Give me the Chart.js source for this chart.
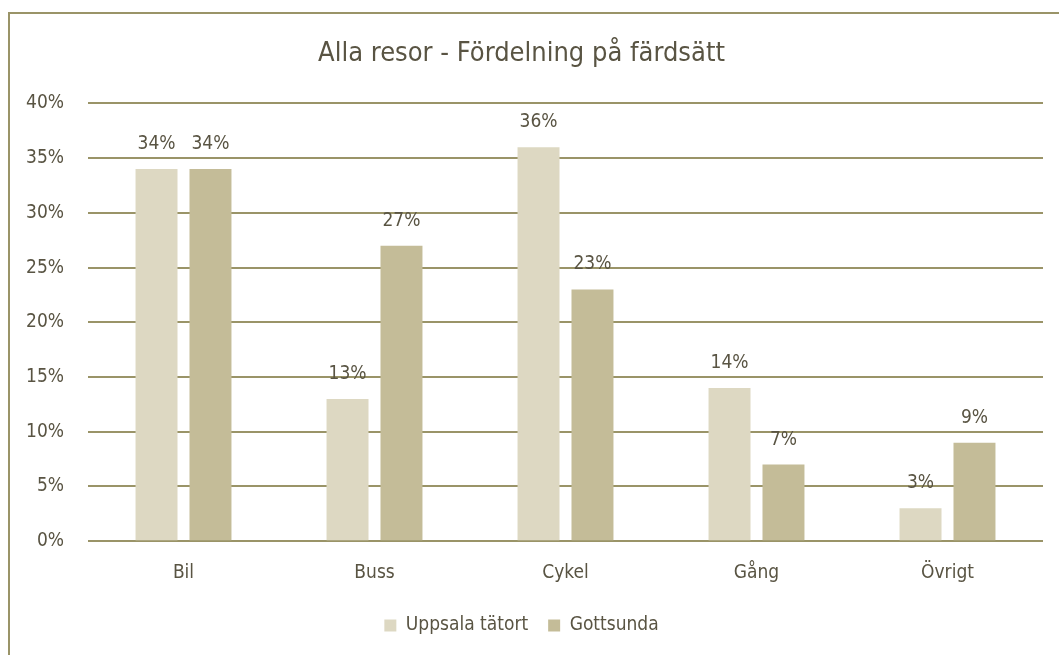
<!DOCTYPE html>
<html>
<head>
<meta charset="utf-8">
<script src="https://cdn.jsdelivr.net/npm/chart.js@4"></script>
<style>
  html, body { margin: 0; padding: 0; background: #fff; overflow: hidden; }
  #frame { position: absolute; left: 8px; top: 12px; width: 1100px; height: 700px; border: 2px solid #9a9468; }
  #wrap { position: absolute; left: 0; top: 0; width: 1059px; height: 655px; }
</style>
</head>
<body>
<div id="frame"></div>
<div id="wrap"><canvas id="mycanvas"></canvas></div>
<script>
const categories = ['Bil', 'Buss', 'Cykel', 'Gång', 'Övrigt'];
const uppsala = [34, 13, 36, 14, 3];
const gottsunda = [34, 27, 23, 7, 9];
const seriesNames = ['Uppsala tätort', 'Gottsunda'];

const FONT = '"Liberation Sans Narrow", "DejaVu Sans Condensed", "Roboto", sans-serif';
const TEXT = '#595443';

// draws the percentage above each bar
const valueLabels = {
    id: 'valueLabels',
    afterDatasetsDraw(chart) {
        const ctx = chart.ctx;
        ctx.save();
        ctx.font = '19px ' + FONT;
        ctx.fillStyle = TEXT;
        ctx.textAlign = 'center';
        ctx.textBaseline = 'middle';
        chart.data.datasets.forEach((ds, i) => {
            chart.getDatasetMeta(i).data.forEach((bar, j) => {
                ctx.fillText(ds.data[j] + '%', bar.x, bar.y - 25);
            });
        });
        ctx.restore();
    }
};

const chartdata = {
    labels: categories,
    datasets: [{
        label: seriesNames[0],
        backgroundColor: '#ddd8c2',
        data: uppsala
    }, {
        label: seriesNames[1],
        backgroundColor: '#c4bc98',
        data: gottsunda
    }]
};

new Chart(document.getElementById('mycanvas'), {
    type: 'bar',
    data: chartdata,
    plugins: [valueLabels],
    options: {
        responsive: true,
        maintainAspectRatio: false,
        animation: false,
        categoryPercentage: 0.565,
        barPercentage: 0.778,
        layout: { padding: { left: 0, right: 16, top: 0, bottom: 10 } },
        plugins: {
            title: {
                display: true,
                text: 'Alla resor - Fördelning på färdsätt',
                color: TEXT,
                font: { family: FONT, size: 27, weight: 'normal' },
                padding: { top: 38, bottom: 33 }
            },
            legend: {
                position: 'bottom',
                labels: {
                    color: TEXT,
                    font: { family: FONT, size: 19 },
                    boxWidth: 12,
                    boxHeight: 12,
                    padding: 20
                }
            },
            tooltip: { enabled: false }
        },
        scales: {
            x: {
                grid: { display: false },
                border: { display: false },
                ticks: { color: TEXT, font: { family: FONT, size: 19 }, padding: 12 }
            },
            y: {
                min: 0,
                max: 40,
                afterFit(scale) { scale.width = 88; },
                border: { display: false },
                grid: { color: '#9a9468', lineWidth: 2, drawTicks: false },
                ticks: {
                    stepSize: 5,
                    padding: 24,
                    color: TEXT,
                    font: { family: FONT, size: 19 },
                    callback: v => v + '%'
                }
            }
        }
    }
});
</script>
</body>
</html>
